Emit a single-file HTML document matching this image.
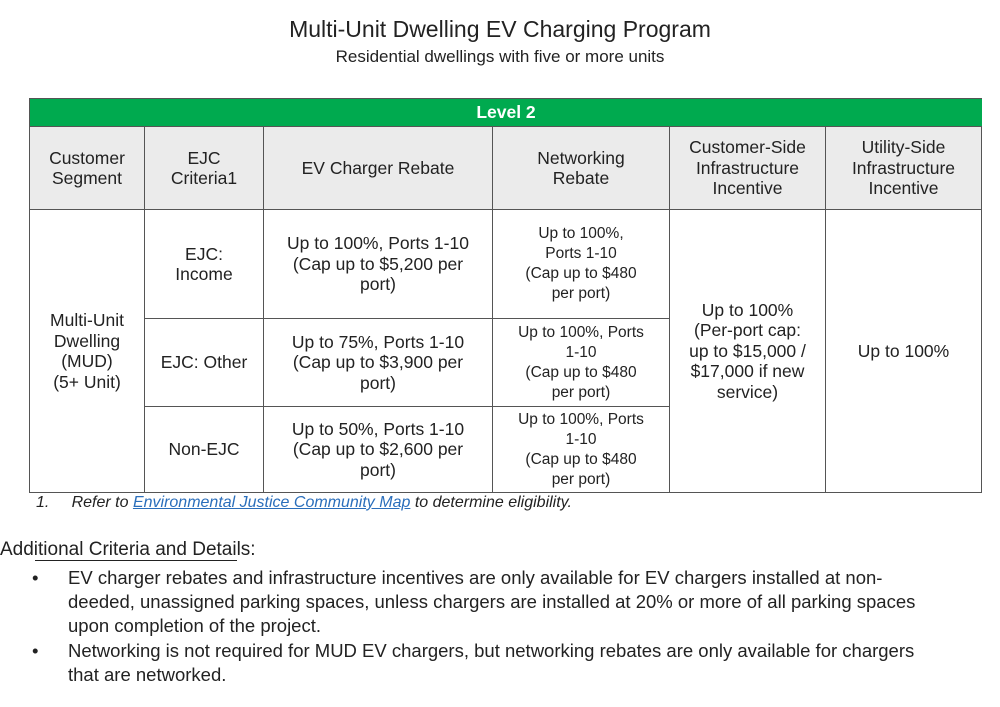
<!DOCTYPE html>
<html><head><meta charset="utf-8"><style>
body{margin:0;width:1000px;height:707px;background:#fff;font-family:"Liberation Sans",sans-serif;color:#222;position:relative;overflow:hidden}
.t{position:absolute;text-align:center;width:1000px;left:0}
.c{position:absolute;display:flex;align-items:center;justify-content:center;text-align:center;font-size:17.5px;line-height:20.5px;box-sizing:border-box;border-right:1px solid #555;border-bottom:1px solid #555}
.h{background:#ebebeb}
.s{font-size:15.5px;line-height:20px}
.b{position:absolute;font-size:18.5px;line-height:24px;white-space:nowrap}
</style></head><body>
<div class="t" style="top:16px;font-size:23px">Multi-Unit Dwelling EV Charging Program</div>
<div class="t" style="top:47px;font-size:17px">Residential dwellings with five or more units</div>
<div style="position:absolute;left:29px;top:98px;width:952px;height:394px;border-left:1px solid #555;border-top:1px solid #555">
<div class="c" style="left:0;top:0;width:952px;height:28px;background:#00aa4f;color:#fff;font-weight:bold;border-right:none">Level 2</div>
<div class="c h" style="left:0;top:28px;width:115px;height:83px">Customer<br>Segment</div>
<div class="c h" style="left:115px;top:28px;width:119px;height:83px">EJC<br>Criteria1</div>
<div class="c h" style="left:234px;top:28px;width:229px;height:83px">EV Charger Rebate</div>
<div class="c h" style="left:463px;top:28px;width:177px;height:83px">Networking<br>Rebate</div>
<div class="c h" style="left:640px;top:28px;width:156px;height:83px">Customer-Side<br>Infrastructure<br>Incentive</div>
<div class="c h" style="left:796px;top:28px;width:156px;height:83px">Utility-Side<br>Infrastructure<br>Incentive</div>
<div class="c" style="left:0;top:111px;width:115px;height:283px">Multi-Unit<br>Dwelling<br>(MUD)<br>(5+ Unit)</div>
<div class="c" style="left:115px;top:111px;width:119px;height:109px">EJC:<br>Income</div>
<div class="c" style="left:234px;top:111px;width:229px;height:109px">Up to 100%, Ports 1-10<br>(Cap up to $5,200 per<br>port)</div>
<div class="c s" style="left:463px;top:111px;width:177px;height:109px">Up to 100%,<br>Ports 1-10<br>(Cap up to $480<br>per port)</div>
<div class="c" style="left:115px;top:220px;width:119px;height:88px">EJC: Other</div>
<div class="c" style="left:234px;top:220px;width:229px;height:88px">Up to 75%, Ports 1-10<br>(Cap up to $3,900 per<br>port)</div>
<div class="c s" style="left:463px;top:220px;width:177px;height:88px">Up to 100%, Ports<br>1-10<br>(Cap up to $480<br>per port)</div>
<div class="c" style="left:115px;top:308px;width:119px;height:86px">Non-EJC</div>
<div class="c" style="left:234px;top:308px;width:229px;height:86px">Up to 50%, Ports 1-10<br>(Cap up to $2,600 per<br>port)</div>
<div class="c s" style="left:463px;top:308px;width:177px;height:86px">Up to 100%, Ports<br>1-10<br>(Cap up to $480<br>per port)</div>
<div class="c" style="left:640px;top:111px;width:156px;height:283px">Up to 100%<br>(Per-port cap:<br>up to $15,000 /<br>$17,000 if new<br>service)</div>
<div class="c" style="left:796px;top:111px;width:156px;height:283px">Up to 100%</div>
</div>
<div style="position:absolute;left:36px;top:494px;font-size:16px;font-style:italic">1.&nbsp;&nbsp;&nbsp;&nbsp;&nbsp;Refer to <a style="color:#2a6ebb;text-decoration:underline">Environmental Justice Community Map</a> to determine eligibility.</div>
<div class="b" style="left:0;top:538px;font-size:19px">Additional Criteria and Details:</div>
<div style="position:absolute;left:35px;top:560px;width:202px;height:1px;background:#222"></div>
<div class="b" style="left:32px;top:566px">•</div>
<div class="b" style="left:68px;top:566px">EV charger rebates and infrastructure incentives are only available for EV chargers installed at non-<br>deeded, unassigned parking spaces, unless chargers are installed at 20% or more of all parking spaces<br>upon completion of the project.</div>
<div class="b" style="left:32px;top:639px">•</div>
<div class="b" style="left:68px;top:639px">Networking is not required for MUD EV chargers, but networking rebates are only available for chargers<br>that are networked.</div>
</body></html>
